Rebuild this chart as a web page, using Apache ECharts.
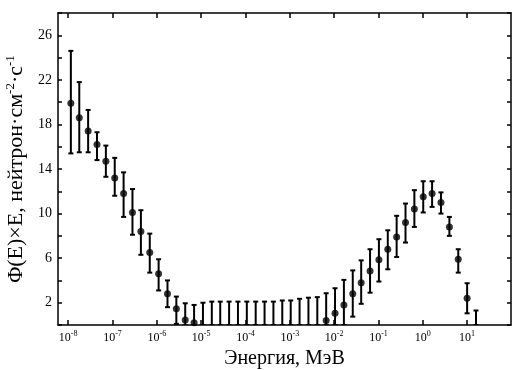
<!DOCTYPE html>
<html>
<head>
<meta charset="utf-8">
<script src="https://cdn.jsdelivr.net/npm/echarts@6/dist/echarts.min.js"></script>
<style>
  html, body { margin: 0; padding: 0; background: #fff; }
  #chart { width: 512px; height: 370px; }
</style>
</head>
<body>
<div id="chart"></div>
<script>
// log10 of energy, MeV
const logEnergy = [
  -7.94, -7.75, -7.55, -7.35, -7.15, -6.95, -6.75, -6.55, -6.36, -6.16,
  -5.96, -5.76, -5.56, -5.36, -5.16, -4.96, -4.76, -4.57, -4.37, -4.17,
  -3.97, -3.77, -3.57, -3.37, -3.17, -2.98, -2.78, -2.58, -2.38, -2.18,
  -1.98, -1.78, -1.58, -1.39, -1.19, -0.99, -0.79, -0.59, -0.39, -0.19,
  0.01, 0.21, 0.41, 0.60, 0.80, 1.00, 1.20
]
// Φ(E)×E, null where only the error bar is drawn
const fluence = [
  19.9, 18.6, 17.4, 16.2, 14.7, 13.2, 11.8, 10.1, 8.4, 6.5,
  4.6, 2.8, 1.45, 0.45, 0.2, null, null, null, null, null,
  null, null, null, null, null, null, null, null, null, 0.4,
  1.05, 1.8, 2.8, 3.8, 4.85, 5.85, 6.8, 7.9, 9.2, 10.4,
  11.5, 11.8, 11.0, 8.8, 5.9, 2.4, null
]
const errLow = [
  15.4, 15.5, 15.5, 14.8, 13.3, 11.6, 9.7, 8.1, 6.3, 4.7,
  3.1, 1.6, 0.1, 0, 0, 0, 0, 0, 0, 0,
  0, 0, 0, 0, 0, 0, 0, 0, 0, 0,
  0, 0, 0.75, 1.9, 2.9, 3.9, 5.0, 6.1, 7.4, 8.8,
  10.1, 10.6, 10.0, 8.0, 4.7, 1.05, 0
]
const errHigh = [
  24.6, 21.8, 19.3, 17.3, 16.1, 15.0, 13.7, 12.2, 10.3, 8.2,
  5.9, 4.0, 2.55, 1.95, 1.8, 2.0, 2.1, 2.1, 2.1, 2.1,
  2.1, 2.1, 2.1, 2.1, 2.2, 2.2, 2.35, 2.45, 2.5, 2.85,
  3.3, 4.05, 4.9, 5.8, 6.8, 7.7, 8.5, 9.8, 10.9, 12.1,
  12.9, 12.9, 11.9, 9.7, 6.8, 3.75, 1.3
]
const decadeLabels = [-8, -7, -6, -5, -4, -3, -2, -1, 0, 1]
const decadeTicks = [-8, -7, -6, -5, -4, -3, -2, -1, 0, 1]
const yLabels = [2, 6, 10, 14, 18, 22, 26]

const serif = 'Liberation Serif'

const chart = echarts.init(document.getElementById('chart'))

const errData = logEnergy.map((x, i) => [x, errLow[i], errHigh[i]])
const pointData = []
logEnergy.forEach((x, i) => {
  if (fluence[i] !== null) pointData.push([x, fluence[i]])
})

function renderErr(params, api) {
  const x = api.value(0)
  const lo = api.coord([x, api.value(1)])
  const hi = api.coord([x, api.value(2)])
  const cap = 2.5
  const style = { stroke: '#000', lineWidth: 2 }
  return {
    type: 'group',
    children: [
      { type: 'line', shape: { x1: lo[0], y1: lo[1], x2: hi[0], y2: hi[1] }, style },
      { type: 'line', shape: { x1: hi[0] - cap, y1: hi[1], x2: hi[0] + cap, y2: hi[1] }, style },
      { type: 'line', shape: { x1: lo[0] - cap, y1: lo[1], x2: lo[0] + cap, y2: lo[1] }, style }
    ]
  }
}

const axisLine = { show: true, onZero: false, lineStyle: { color: '#000', width: 1.5 } }

chart.setOption({
  animation: false,
  backgroundColor: '#fff',
  grid: { left: 58, right: 1, top: 13, bottom: 45, containLabel: false, outerBoundsMode: 'none' },
  xAxis: [
    {
      type: 'value',
      min: -8.23,
      max: 1.99,
      position: 'bottom',
      axisLine,
      splitLine: { show: false },
      axisTick: { show: true, inside: true, length: 5, customValues: decadeTicks, lineStyle: { color: '#000', width: 1.5 } },
      axisLabel: {
        customValues: decadeLabels,
        margin: 5,
        color: '#000',
        formatter: v => '{b|10}{s|' + v + '}',
        rich: {
          b: { fontFamily: serif, fontSize: 12, color: '#000' },
          s: { fontFamily: serif, fontSize: 8, color: '#000', padding: [0, 0, 7, 0] }
        }
      },
      name: 'Энергия, МэВ',
      nameLocation: 'middle',
      nameGap: 22,
      nameTextStyle: { fontFamily: serif, fontSize: 20, color: '#000', verticalAlign: 'top' }
    },
    {
      type: 'value',
      min: -8.23,
      max: 1.99,
      position: 'top',
      axisLine,
      splitLine: { show: false },
      axisTick: { show: true, inside: true, length: 5, customValues: decadeTicks, lineStyle: { color: '#000', width: 1.5 } },
      axisLabel: { show: false }
    }
  ],
  yAxis: [
    {
      type: 'value',
      min: 0,
      max: 28,
      interval: 2,
      position: 'left',
      axisLine,
      splitLine: { show: false },
      axisTick: { show: true, inside: true, length: 4, lineStyle: { color: '#000', width: 1.5 } },
      axisLabel: {
        margin: 6,
        color: '#000',
        fontFamily: serif,
        fontSize: 14,
        formatter: v => (yLabels.includes(v) ? String(v) : '')
      },
      name: 'Φ(E)×E, нейтрон·см{s|-2}·с{s|-1}',
      nameLocation: 'middle',
      nameGap: 25,
      nameRotate: 90,
      nameTextStyle: {
        fontFamily: serif,
        fontSize: 22,
        color: '#000',
        rich: {
          s: { fontFamily: serif, fontSize: 13, color: '#000', padding: [0, 0, 11, 0] }
        }
      }
    },
    {
      type: 'value',
      min: 0,
      max: 28,
      interval: 2,
      position: 'right',
      axisLine,
      splitLine: { show: false },
      axisTick: { show: true, inside: true, length: 4, lineStyle: { color: '#000', width: 1.5 } },
      axisLabel: { show: false }
    }
  ],
  series: [
    {
      type: 'custom',
      renderItem: renderErr,
      encode: { x: 0, y: [1, 2] },
      data: errData,
      clip: true,
      z: 2
    },
    {
      type: 'scatter',
      symbol: 'circle',
      symbolSize: 7,
      itemStyle: { color: '#000' },
      data: pointData,
      z: 3
    }
  ]
})
</script>
</body>
</html>
